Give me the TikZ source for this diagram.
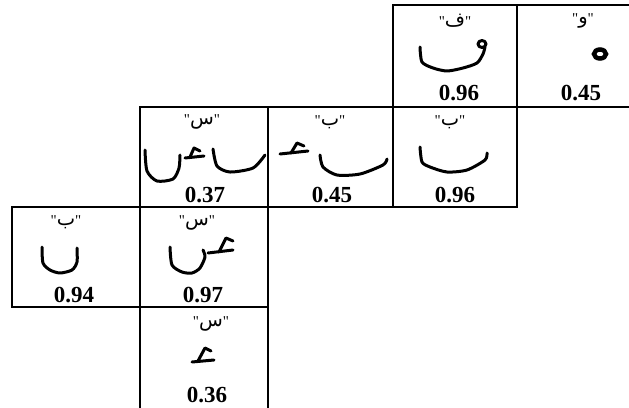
\documentclass[tikz,border=0pt]{standalone}
\usepackage{fontspec}
\setmainfont{Liberation Serif}[Ligatures=TeXOff]
\newfontfamily\arabicfont[Script=Arabic,Scale=1.3]{DejaVu Sans}
\TeXXeTstate=1
\begin{document}
\begin{tikzpicture}[x=1pt,y=-1pt,
  cellbox/.style={draw=black,line width=1.9pt},
  numtxt/.style={font=\fontsize{23}{23}\selectfont\bfseries,anchor=base,inner sep=0pt},
  lbltxt/.style={font=\fontsize{15}{15}\selectfont,inner sep=0pt},
  pen/.style={line width=3pt,line cap=round,line join=round}]
\useasboundingbox (0,0) rectangle (629,407);
\clip (0,0) rectangle (629,407);
% cells
\draw[cellbox] (393,5) rectangle (517,107);
\draw[cellbox] (517,5) rectangle (641,107);
\draw[cellbox] (140,107) rectangle (268,207);
\draw[cellbox] (268,107) rectangle (393,207);
\draw[cellbox] (393,107) rectangle (517,207);
\draw[cellbox] (12,207) rectangle (140,307);
\draw[cellbox] (140,207) rectangle (268,307);
\draw[cellbox] (140,307) rectangle (268,412);
% labels
\node[lbltxt] (l11) at (455,21) {"{\arabicfont ف}"};
\node[lbltxt] (l12) at (583,21) {"{\arabicfont و}"};
\node[lbltxt] (l21) at (202,122) {"{\arabicfont س}"};
\node[lbltxt] (l22) at (330,122) {"{\arabicfont ب}"};
\node[lbltxt] (l23) at (450,122) {"{\arabicfont ب}"};
\node[lbltxt] (l31) at (66,222) {"{\arabicfont ب}"};
\node[lbltxt] (l32) at (197,223) {"{\arabicfont س}"};
\node[lbltxt] (l41) at (211,324) {"{\arabicfont س}"};
% numbers
\node[numtxt] (n11) at (459,100) {0.96};
\node[numtxt] (n12) at (581,100) {0.45};
\node[numtxt] (n21) at (205,202) {0.37};
\node[numtxt] (n22) at (332,202) {0.45};
\node[numtxt] (n23) at (455,202) {0.96};
\node[numtxt] (n31) at (74,302) {0.94};
\node[numtxt] (n32) at (203,302) {0.97};
\node[numtxt] (n41) at (207,402) {0.36};
% strokes R1C1
\draw[pen] plot[smooth,tension=0.45] coordinates {(420,47) (422,62) (433,68) (447,71) (463,68) (477,63) (483,54) (485,47)};
\draw[pen] (482,44) ellipse (4 and 3.5);
% R1C2
\draw[line width=4.5pt] (600,54) ellipse (6 and 4.5);
% R2C1
\draw[pen] plot[smooth,tension=0.45] coordinates {(145,150) (147,171) (157,181) (173,179) (179,168) (180,155)};
\draw[pen] (185,158) -- (204,156);
\draw[pen] (190,157) -- (194,148) -- (200,151);
\draw[pen] plot[smooth,tension=0.45] coordinates {(213,149) (217,166) (230,172) (253,168) (265,155)};
% R2C2
\draw[pen] (280,154) -- (308,151);
\draw[pen] (291,153) -- (297,143) -- (304,146);
\draw[pen] plot[smooth,tension=0.45] coordinates {(320,155) (323,167) (337,175) (360,174) (383,165) (387,159)};
% R2C3
\draw[pen] plot[smooth,tension=0.45] coordinates {(420,147) (422,162) (430,167) (447,172) (467,170) (485,160) (487,153)};
% R3C1
\draw[pen] plot[smooth,tension=0.45] coordinates {(42,247) (43,263) (50,270) (60,273) (72,270) (77,262) (77,248)};
% R3C2
\draw[pen] plot[smooth,tension=0.45] coordinates {(170,247) (172,265) (182,272) (192,273) (200,268) (205,257) (203,250)};
\draw[pen] (208,253) -- (233,250);
\draw[pen] (219,252) -- (226,238) -- (233,241);
% R4C1
\draw[pen] (192,362) -- (214,360);
\draw[pen] (198,361) -- (205,348) -- (211,351);
\end{tikzpicture}
\end{document}
